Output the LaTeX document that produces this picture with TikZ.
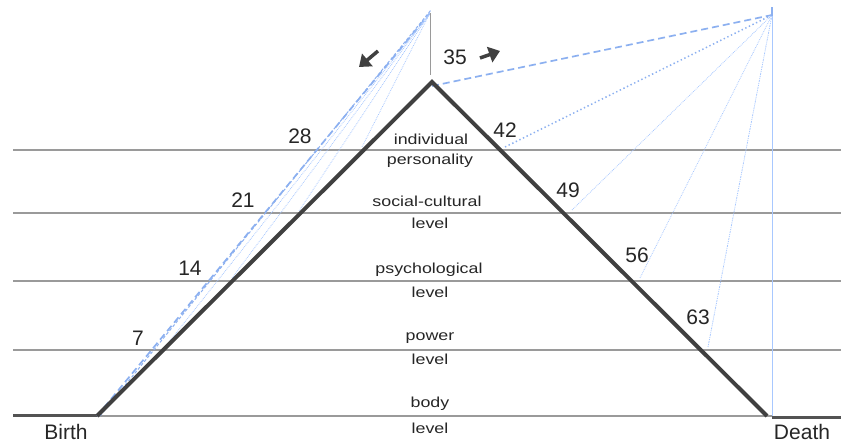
\documentclass[tikz,border=0pt]{standalone}
\usepackage{fontspec}
\setmainfont{Liberation Sans}
\usetikzlibrary{arrows.meta}
\definecolor{lvl}{HTML}{9A9A9A}
\definecolor{tri}{HTML}{404040}
\definecolor{bdash}{HTML}{8CB0F0}
\definecolor{bthin}{HTML}{A8C8FF}
\tikzset{
  level/.style={draw=lvl,line width=2.2pt},
  tri/.style={draw=tri,line width=4pt,line join=miter},
  num/.style={font=\fontsize{21}{21}\selectfont,text=black!85,inner sep=0pt},
  lab/.style={font=\fontsize{14.5}{16}\selectfont,text=black!85,inner sep=0pt},
  endlab/.style={font=\fontsize{21}{21}\selectfont,text=black!85,inner sep=0pt},
  bigdash/.style={draw=bdash,line width=1.7pt,dash pattern=on 7pt off 4pt},
  bdot/.style={draw=bdash,line width=1.5pt,dash pattern=on 1.4pt off 2.6pt},
  thinblue/.style={draw=bthin,line width=0.8pt,densely dotted},
  thinsolid/.style={draw=bthin,line width=0.7pt},
  sparsedot/.style={draw=bthin,line width=0.8pt,dash pattern=on 1pt off 1pt on 1pt off 1pt on 2pt off 1pt},
  arr/.style={draw=tri,line width=3.5pt,-{Triangle[length=11pt,width=16pt]}}
}
\newcommand{\stretchlab}[1]{\scalebox{1.23}[1]{#1}}
\begin{document}
\begin{tikzpicture}[x=1pt,y=-1pt]
\useasboundingbox (0,0) rectangle (841,443);
% key points
\coordinate (B) at (97,416);
\coordinate (A) at (432,82);
\coordinate (D) at (767,416);
\coordinate (L) at (430,13);
\coordinate (R) at (772,15);
\coordinate (Lv) at (430,75);
\coordinate (Rb) at (772,416);
% level lines
\coordinate (h1a) at (13,150); \coordinate (h1b) at (841,150);
\coordinate (h2a) at (13,213); \coordinate (h2b) at (841,213);
\coordinate (h3a) at (13,281); \coordinate (h3b) at (841,281);
\coordinate (h4a) at (13,350); \coordinate (h4b) at (841,350);
\coordinate (h5a) at (13,416); \coordinate (h5b) at (772,416);
\draw[level] (h1a) -- (h1b);
\draw[level] (h2a) -- (h2b);
\draw[level] (h3a) -- (h3b);
\draw[level] (h4a) -- (h4b);
\draw[level] (h5a) -- (h5b);
% thick base ends
\coordinate (bl) at (13,416);
\coordinate (rb2) at (772,418);
\coordinate (br) at (841,418);
\draw[draw=tri!90,line width=3pt] (bl) -- (B);
\draw[draw=tri!90,line width=3pt] (rb2) -- (br);
% points on triangle
\coordinate (p7) at (165,347);
\coordinate (p14) at (232,278);
\coordinate (p21) at (299,211);
\coordinate (p28) at (362,147);
\coordinate (p42) at (505,147);
\coordinate (p49) at (572,210);
\coordinate (p56) at (640,278);
\coordinate (p63) at (708,347);
% left fan
\draw[bigdash] (B) -- (L);
\draw[bigdash,line width=1pt,dash pattern=on 3pt off 2pt] ([xshift=3pt]B) -- ([xshift=1pt,yshift=3pt]L);
\draw[thinblue] (p7) -- (L);
\draw[thinblue] (p14) -- (L);
\draw[thinblue] (p21) -- (L);
\draw[thinblue] (p28) -- (L);
% right fan
\draw[bigdash] ([yshift=-4pt]A) -- (R);
\draw[bdot] (p42) -- (R);
\draw[thinblue] (p49) -- (R);
\draw[thinblue] (p56) -- (R);
\draw[sparsedot] (p63) -- (R);
\draw[thinsolid] (R) -- (Rb);
\draw[bdash,line width=2pt] ([yshift=-1pt]R) -- ([yshift=8pt]R);
% vertical at apex
\draw[draw=lvl,line width=0.8pt] (L) -- (Lv);
% triangle
\draw[tri] (B) -- (A) -- (D);
% arrows
\coordinate (la1) at (378,51);
\coordinate (la2) at (359,67);
\coordinate (ra1) at (480,58);
\coordinate (ra2) at (500,51);
\draw[arr] (la1) -- (la2);
\draw[arr] (ra1) -- (ra2);
% numbers
\node[num] (n7) at (138,338) {7};
\node[num] (n14) at (190,268) {14};
\node[num] (n21) at (243,200) {21};
\node[num] (n28) at (300,136) {28};
\node[num] (n35) at (455,57) {35};
\node[num] (n42) at (505,130) {42};
\node[num] (n49) at (568,190) {49};
\node[num] (n56) at (637,255) {56};
\node[num] (n63) at (698,317) {63};
% level labels
\node[lab] (l1a) at (431,139) {\stretchlab{individual}};
\node[lab] (l1b) at (430,161) {\stretchlab{personality}};
\node[lab] (l2a) at (427,201) {\stretchlab{social-cultural}};
\node[lab] (l2b) at (430,223) {\stretchlab{level}};
\node[lab] (l3a) at (429,270) {\stretchlab{psychological}};
\node[lab] (l3b) at (430,292) {\stretchlab{level}};
\node[lab] (l4a) at (430,338) {\stretchlab{power}};
\node[lab] (l4b) at (430,359) {\stretchlab{level}};
\node[lab] (l5a) at (430,404) {\stretchlab{body}};
\node[lab] (l5b) at (430,428) {\stretchlab{level}};
% ends
\node[endlab] (birth) at (66,432) {Birth};
\node[endlab] (death) at (802,432) {Death};
\end{tikzpicture}
\end{document}
